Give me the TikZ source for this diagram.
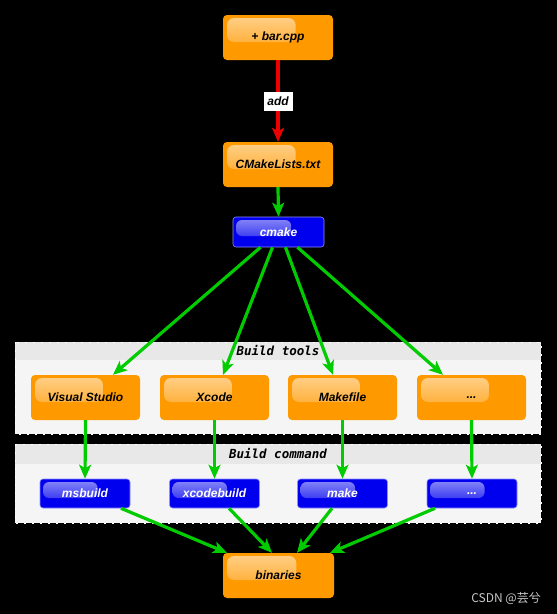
\documentclass[tikz,border=0pt]{standalone}
\usepackage{fontspec}
\setmainfont{Liberation Sans}
\setmonofont{DejaVu Sans Mono}
\newfontfamily\cjkfont{Noto Sans CJK SC}
\usetikzlibrary{arrows.meta,calc}

\definecolor{boxorange}{RGB}{255,153,0}
\definecolor{boxblue}{RGB}{0,0,238}
\definecolor{flowgreen}{RGB}{0,204,0}
\definecolor{addred}{RGB}{238,0,0}
\definecolor{panelbody}{RGB}{245,245,245}
\definecolor{panelhead}{RGB}{232,232,232}
\definecolor{markgray}{RGB}{200,200,200}

\begin{document}
\begin{tikzpicture}[x=1pt,y=-1pt,
  boxtext/.style={font=\bfseries\itshape\fontsize{12}{14}\selectfont, inner sep=0pt},
  orangebox/.style={boxtext, fill=boxorange, text=black, rounded corners=4pt,
    minimum width=110pt, minimum height=45pt,
    path picture={\shade[top color=white!55!boxorange, bottom color=boxorange!96!white, rounded corners=7pt]
      ($(path picture bounding box.north west)+(4pt,-3pt)$) rectangle
      ($(path picture bounding box.north west)!0.66!(path picture bounding box.north east)+(0,-27pt)$);}},
  bluebox/.style={boxtext, fill=boxblue, draw=blue!45!white, line width=0.6pt, text=white, rounded corners=3pt,
    minimum width=90pt, minimum height=29pt,
    path picture={\shade[top color=white!55!boxblue, bottom color=boxblue!92!white, rounded corners=6pt]
      ($(path picture bounding box.north west)+(3pt,-3pt)$) rectangle
      ($(path picture bounding box.north west)!0.64!(path picture bounding box.north east)+(0,-19pt)$);}},
  paneltitle/.style={font=\ttfamily\bfseries\itshape\fontsize{12.5}{14}\selectfont, inner sep=0pt},
  flow/.style={draw=flowgreen, line width=3.2pt, -{Stealth[length=14pt,width=12pt,inset=3.5pt]}},
  addflow/.style={draw=addred, line width=3.2pt, -{Stealth[length=14pt,width=12pt,inset=3.5pt]}}]

  % black page
  \fill[black] (0,0) rectangle (557,614);
  \useasboundingbox (0,0) rectangle (557,614);

  % the two group panels
  \fill[panelbody] (15,342) rectangle (541,434);
  \fill[panelhead] (15,342) rectangle (541,360);
  \draw[white, line width=1pt, dash pattern=on 2pt off 6pt] (15,342) rectangle (541,434);
  \node[paneltitle] (toolstitle) at (278,351) {Build tools};

  \fill[panelbody] (15,444) rectangle (541,523);
  \fill[panelhead] (15,444) rectangle (541,464);
  \draw[white, line width=1pt, dash pattern=on 2pt off 6pt] (15,444) rectangle (541,523);
  \node[paneltitle] (cmdtitle) at (278,454) {Build command};

  % sources and generator
  \node[orangebox] (barcpp) at (278,37.5) {+ bar.cpp};
  \node[orangebox] (cmakelists) at (278,164.5) {CMakeLists.txt};
  \node[bluebox, minimum width=91pt, minimum height=30pt] (cmake) at (278.5,232) {cmake};

  % build tools
  \node[orangebox, minimum width=109pt] (vs) at (85.5,397.5) {Visual Studio};
  \node[orangebox, minimum width=109pt] (xcode) at (214.5,397.5) {Xcode};
  \node[orangebox, minimum width=109pt] (makefile) at (342.5,397.5) {Makefile};
  \node[orangebox, minimum width=109pt] (tooldots) at (471.5,397.5) {...};

  % build commands
  \node[bluebox] (msbuild) at (85,493.5) {msbuild};
  \node[bluebox] (xcodebuild) at (214.5,493.5) {xcodebuild};
  \node[bluebox] (make) at (342.5,493.5) {make};
  \node[bluebox] (cmddots) at (472,493.5) {...};

  \node[orangebox, minimum width=111pt] (binaries) at (278.5,575.5) {binaries};

  % connectors
  \draw[addflow] (barcpp.south) -- (cmakelists.north)
    node[midway, boxtext, fill=white, minimum width=29pt, minimum height=19pt] (addlabel) {add};
  \draw[flow] (cmakelists.south) -- (cmake.north);

  \draw[flow] ([xshift=-18pt]cmake.south) -- ([xshift=27.5pt]vs.north);
  \draw[flow] ([xshift=-6pt]cmake.south) -- ([xshift=8.5pt]xcode.north);
  \draw[flow] ([xshift=7pt]cmake.south) -- ([xshift=-9.5pt]makefile.north);
  \draw[flow] ([xshift=19pt]cmake.south) -- ([xshift=-28.5pt]tooldots.north);

  \draw[flow] (vs.south) -- (msbuild.north);
  \draw[flow] (xcode.south) -- (xcodebuild.north);
  \draw[flow] (makefile.south) -- (make.north);
  \draw[flow] (tooldots.south) -- (cmddots.north);

  \draw[flow] ([xshift=36pt]msbuild.south) -- ([xshift=-51.5pt]binaries.north);
  \draw[flow] ([xshift=14.5pt]xcodebuild.south) -- ([xshift=-6.5pt]binaries.north);
  \draw[flow] ([xshift=-10.5pt]make.south) -- ([xshift=18.5pt]binaries.north);
  \draw[flow] ([xshift=-37pt]cmddots.south) -- ([xshift=51.5pt]binaries.north);

  \node[text=markgray, font=\cjkfont\fontsize{12}{13}\selectfont, anchor=east, inner sep=0pt] (mark) at (541,598) {CSDN @芸兮};
\end{tikzpicture}
\end{document}
